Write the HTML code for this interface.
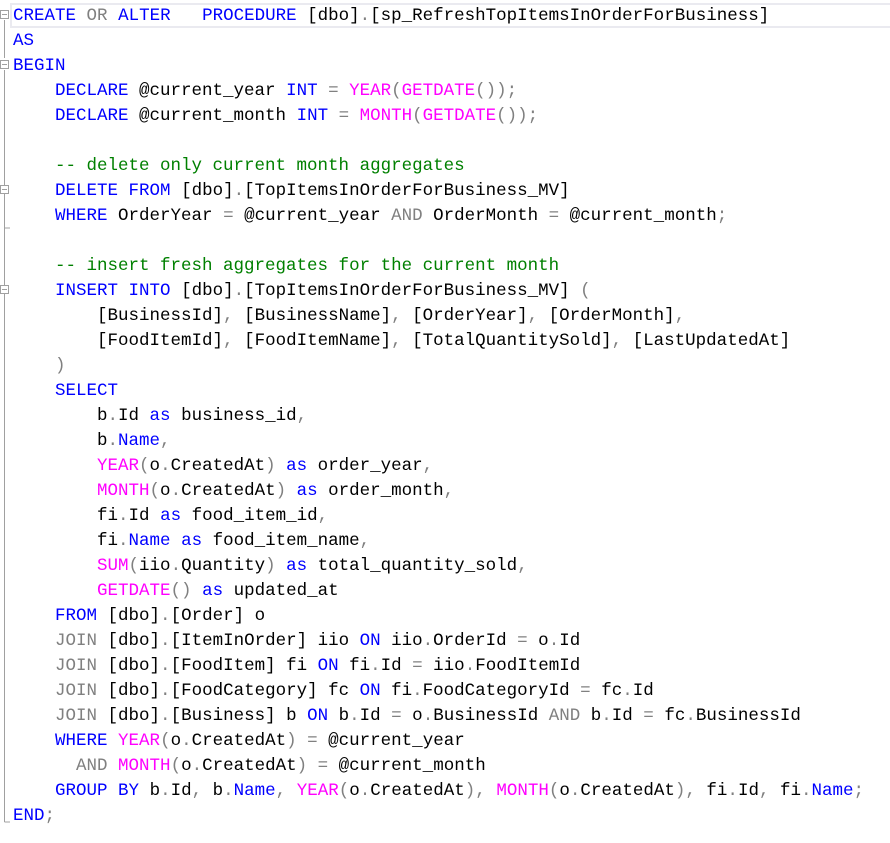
<!DOCTYPE html>
<html><head><meta charset="utf-8"><style>
html,body{margin:0;padding:0;background:#fff;width:890px;height:843px;overflow:hidden}
#hl{position:absolute;left:10px;top:3px;width:880px;height:21px;border:2px solid #eaeaf0;border-right:none;box-sizing:content-box}
#code{position:absolute;left:13px;top:4px;margin:0;font-family:"Liberation Mono",monospace;font-size:17.5px;line-height:25px;color:#000;white-space:pre}
.k{color:#0000ff}.g{color:#808080}.f{color:#ff00ff}.c{color:#008000}
</style></head><body>
<div id="hl"></div>
<svg width="12" height="843" style="position:absolute;left:0;top:0">
<g stroke="#a0a0a0" stroke-width="1" fill="#fff">
<line x1="4.5" y1="20" x2="4.5" y2="58"/>
<line x1="4.5" y1="70" x2="4.5" y2="822"/>
<line x1="4.5" y1="822" x2="10" y2="822"/>
<line x1="4.5" y1="228" x2="10" y2="228"/>
<rect x="0.5" y="10.5" width="8" height="8"/><line x1="2" y1="14.5" x2="7" y2="14.5"/>
<rect x="0.5" y="60.5" width="8" height="8"/><line x1="2" y1="64.5" x2="7" y2="64.5"/>
<rect x="0.5" y="185.5" width="8" height="8"/><line x1="2" y1="189.5" x2="7" y2="189.5"/>
<rect x="0.5" y="285.5" width="8" height="8"/><line x1="2" y1="289.5" x2="7" y2="289.5"/>
</g></svg>
<pre id="code"><span class="k">CREATE</span> <span class="g">OR</span> <span class="k">ALTER</span>   <span class="k">PROCEDURE</span> [dbo]<span class="g">.</span>[sp_RefreshTopItemsInOrderForBusiness]
<span class="k">AS</span>
<span class="k">BEGIN</span>
    <span class="k">DECLARE</span> @current_year <span class="k">INT</span> <span class="g">=</span> <span class="f">YEAR</span><span class="g">(</span><span class="f">GETDATE</span><span class="g">());</span>
    <span class="k">DECLARE</span> @current_month <span class="k">INT</span> <span class="g">=</span> <span class="f">MONTH</span><span class="g">(</span><span class="f">GETDATE</span><span class="g">());</span>

    <span class="c">-- delete only current month aggregates</span>
    <span class="k">DELETE</span> <span class="k">FROM</span> [dbo]<span class="g">.</span>[TopItemsInOrderForBusiness_MV]
    <span class="k">WHERE</span> OrderYear <span class="g">=</span> @current_year <span class="g">AND</span> OrderMonth <span class="g">=</span> @current_month<span class="g">;</span>

    <span class="c">-- insert fresh aggregates for the current month</span>
    <span class="k">INSERT</span> <span class="k">INTO</span> [dbo]<span class="g">.</span>[TopItemsInOrderForBusiness_MV] <span class="g">(</span>
        [BusinessId]<span class="g">,</span> [BusinessName]<span class="g">,</span> [OrderYear]<span class="g">,</span> [OrderMonth]<span class="g">,</span>
        [FoodItemId]<span class="g">,</span> [FoodItemName]<span class="g">,</span> [TotalQuantitySold]<span class="g">,</span> [LastUpdatedAt]
    <span class="g">)</span>
    <span class="k">SELECT</span>
        b<span class="g">.</span>Id <span class="k">as</span> business_id<span class="g">,</span>
        b<span class="g">.</span><span class="k">Name</span><span class="g">,</span>
        <span class="f">YEAR</span><span class="g">(</span>o<span class="g">.</span>CreatedAt<span class="g">)</span> <span class="k">as</span> order_year<span class="g">,</span>
        <span class="f">MONTH</span><span class="g">(</span>o<span class="g">.</span>CreatedAt<span class="g">)</span> <span class="k">as</span> order_month<span class="g">,</span>
        fi<span class="g">.</span>Id <span class="k">as</span> food_item_id<span class="g">,</span>
        fi<span class="g">.</span><span class="k">Name</span> <span class="k">as</span> food_item_name<span class="g">,</span>
        <span class="f">SUM</span><span class="g">(</span>iio<span class="g">.</span>Quantity<span class="g">)</span> <span class="k">as</span> total_quantity_sold<span class="g">,</span>
        <span class="f">GETDATE</span><span class="g">()</span> <span class="k">as</span> updated_at
    <span class="k">FROM</span> [dbo]<span class="g">.</span>[Order] o
    <span class="g">JOIN</span> [dbo]<span class="g">.</span>[ItemInOrder] iio <span class="k">ON</span> iio<span class="g">.</span>OrderId <span class="g">=</span> o<span class="g">.</span>Id
    <span class="g">JOIN</span> [dbo]<span class="g">.</span>[FoodItem] fi <span class="k">ON</span> fi<span class="g">.</span>Id <span class="g">=</span> iio<span class="g">.</span>FoodItemId
    <span class="g">JOIN</span> [dbo]<span class="g">.</span>[FoodCategory] fc <span class="k">ON</span> fi<span class="g">.</span>FoodCategoryId <span class="g">=</span> fc<span class="g">.</span>Id
    <span class="g">JOIN</span> [dbo]<span class="g">.</span>[Business] b <span class="k">ON</span> b<span class="g">.</span>Id <span class="g">=</span> o<span class="g">.</span>BusinessId <span class="g">AND</span> b<span class="g">.</span>Id <span class="g">=</span> fc<span class="g">.</span>BusinessId
    <span class="k">WHERE</span> <span class="f">YEAR</span><span class="g">(</span>o<span class="g">.</span>CreatedAt<span class="g">)</span> <span class="g">=</span> @current_year
      <span class="g">AND</span> <span class="f">MONTH</span><span class="g">(</span>o<span class="g">.</span>CreatedAt<span class="g">)</span> <span class="g">=</span> @current_month
    <span class="k">GROUP</span> <span class="k">BY</span> b<span class="g">.</span>Id<span class="g">,</span> b<span class="g">.</span><span class="k">Name</span><span class="g">,</span> <span class="f">YEAR</span><span class="g">(</span>o<span class="g">.</span>CreatedAt<span class="g">),</span> <span class="f">MONTH</span><span class="g">(</span>o<span class="g">.</span>CreatedAt<span class="g">),</span> fi<span class="g">.</span>Id<span class="g">,</span> fi<span class="g">.</span><span class="k">Name</span><span class="g">;</span>
<span class="k">END</span><span class="g">;</span></pre>
</body></html>
